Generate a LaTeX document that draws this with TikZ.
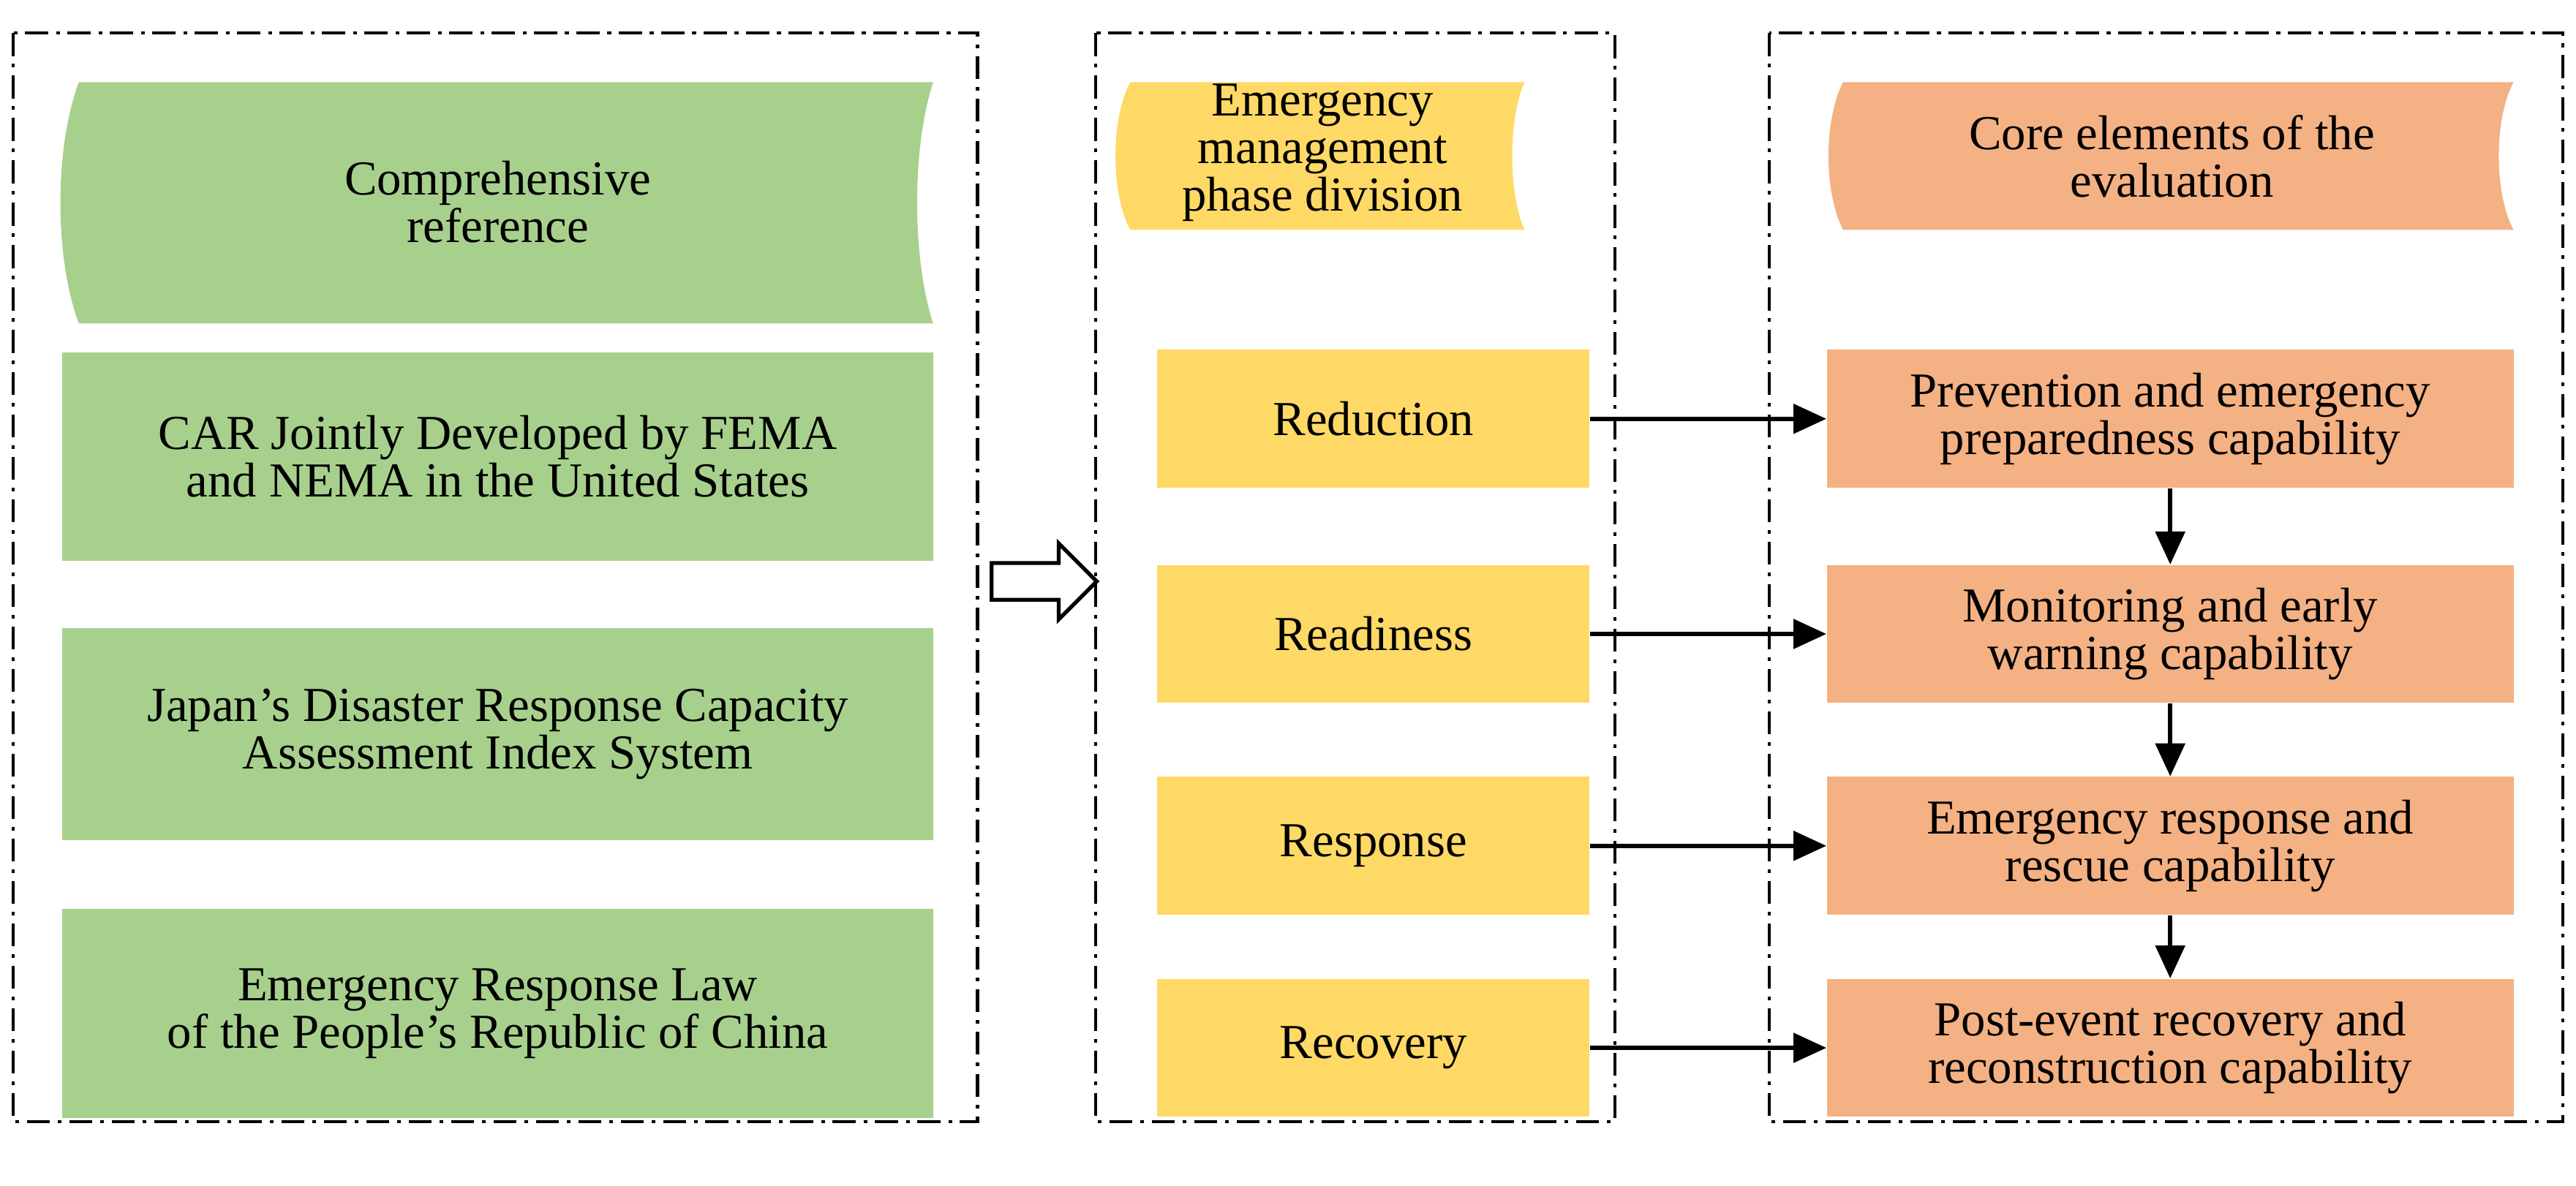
\documentclass[tikz,border=0pt]{standalone}
\usepackage{fontspec}
\setmainfont{Liberation Serif}
\usetikzlibrary{arrows.meta, positioning, shapes.arrows}
\definecolor{grn}{RGB}{168,208,141}
\definecolor{ylw}{RGB}{255,217,102}
\definecolor{org}{RGB}{244,177,131}
\begin{document}
\begin{tikzpicture}[
        x=0.02246cm, y=-0.02246cm,
        every node/.style={align=center, font=\fontsize{19}{18.5}\selectfont},
        frame/.style={draw, line width=1.3pt, dash pattern=on 9pt off 3pt on 1.5pt off 3pt},
        box/.style={inner sep=0pt},
        arrow/.style={-{Triangle[length=4.5mm, width=4mm]}, line width=1.6pt}
        ]
        \useasboundingbox (0,0) rectangle (1568,722);

        % Frames
        \draw[frame] (8,20) rectangle (595,683);
        \draw[frame] (667,20) rectangle (983,683);
        \draw[frame] (1077,20) rectangle (1560,683);

        % Headers
        \fill[grn] (48,50) -- (568,50) .. controls (555,90) and (555,157) .. (568,197) -- (48,197) .. controls (33,157) and (33,90) .. (48,50) -- cycle;
        \node (Ref_head) at (303,123) {Comprehensive\\reference};
        \fill[ylw] (688,50) -- (928,50) .. controls (918,72) and (918,118) .. (928,140) -- (688,140) .. controls (676,118) and (676,72) .. (688,50) -- cycle;
        \node (Phase_head) at (805,93) {Emergency\\management\\phase division};
        \fill[org] (1122,50) -- (1530,50) .. controls (1518,72) and (1518,118) .. (1530,140) -- (1122,140) .. controls (1110,118) and (1110,72) .. (1122,50) -- cycle;
        \node (Core_head) at (1322,95) {Core elements of the\\evaluation};

        % Left column
        \node[box, fill=grn, minimum width=530*0.02246cm, minimum height=127*0.02246cm] (Ref-1) at (303,278) {CAR Jointly Developed by FEMA\\and NEMA in the United States};
        \node[box, fill=grn, minimum width=530*0.02246cm, minimum height=129*0.02246cm] (Ref-2) at (303,447) {Japan's Disaster Response Capacity\\Assessment Index System};
        \node[box, fill=grn, minimum width=530*0.02246cm, minimum height=127*0.02246cm] (Ref-3) at (303,617) {Emergency Response Law\\of the People's Republic of China};

        % Big hollow arrow
        \node[draw, line width=1.5pt, single arrow, minimum height=64*0.02246cm, text height=0.45cm, text depth=0pt,
              single arrow head extend=0.27cm, single arrow head indent=0pt, inner sep=0pt] (Big_arrow) at (630,354) {};

        % Phases and capabilities
        \foreach \y/\p/\c [count=\i] in {255/Reduction/{Prevention and emergency\\preparedness capability},
                                         386/Readiness/{Monitoring and early\\warning capability},
                                         515/Response/{Emergency response and\\rescue capability},
                                         638/Recovery/{Post-event recovery and\\reconstruction capability}} {
                \node[box, fill=ylw, minimum width=263*0.02246cm, minimum height=84*0.02246cm] (Phase-\i) at (836,\y) {\p};
                \node[box, fill=org, minimum width=418*0.02246cm, minimum height=84*0.02246cm] (Core-\i) at (1321,\y) {\c};
                \draw[arrow] (Phase-\i) -- (Core-\i);
            }
        \foreach \i/\j in {1/2,2/3,3/4}
            \draw[arrow] (Core-\i) -- (Core-\j);

\end{tikzpicture}
\end{document}
